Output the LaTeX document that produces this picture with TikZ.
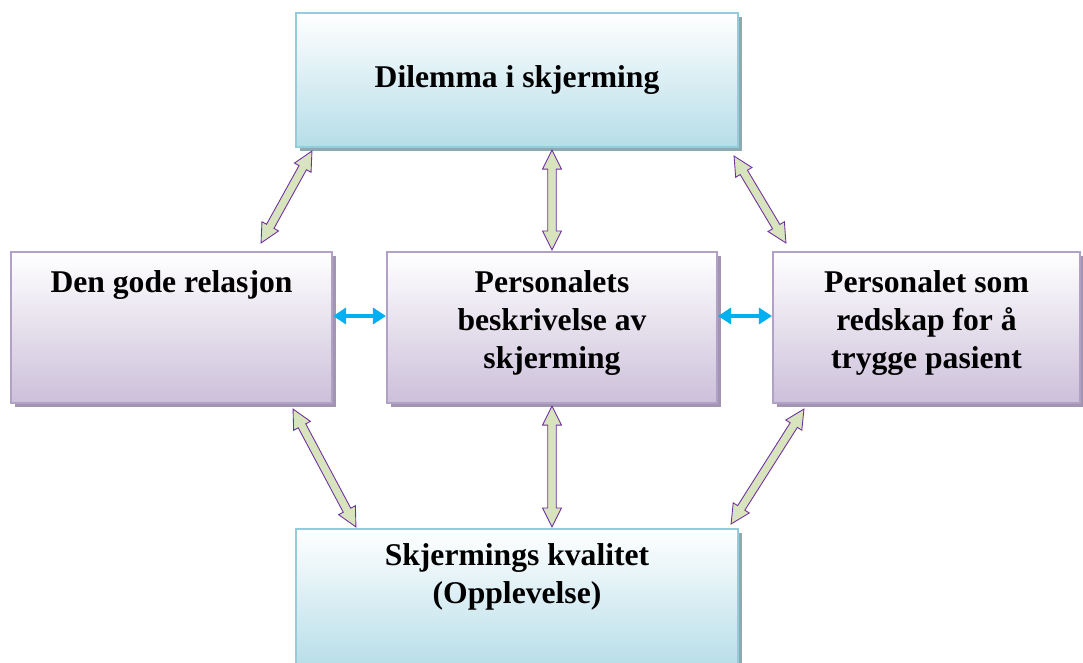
\documentclass[tikz,border=0pt]{standalone}
\usepackage{fontspec}
\setmainfont{Liberation Serif}
\usepackage{tikz}
\usetikzlibrary{shapes,arrows.meta,positioning,calc,shadows}
\usepackage{xcolor}

\definecolor{boxblue}{HTML}{B6DDE8}
\definecolor{lineblue}{HTML}{92CDDC}
\definecolor{shadeblue}{HTML}{8FA9B1}
\definecolor{boxpurple}{HTML}{CCC0DA}
\definecolor{linepurple}{HTML}{B2A1C7}
\definecolor{shadepurple}{HTML}{A195B2}
\definecolor{arrowgreen}{HTML}{D7E4BD}
\definecolor{arrowline}{HTML}{7030A0}
\definecolor{linkblue}{HTML}{00B0F0}

\newcommand{\boxfont}{\fontsize{18}{21.5}\selectfont\bfseries}

\tikzset{
  bluebox/.style={rectangle, draw=lineblue, line width=1.2pt, top color=white, bottom color=boxblue,
    drop shadow={shadow xshift=2pt, shadow yshift=-2pt, fill=shadeblue, opacity=1},
    align=center, font=\boxfont, inner sep=0pt},
  purplebox/.style={rectangle, draw=linepurple, line width=1.2pt, top color=white, bottom color=boxpurple,
    drop shadow={shadow xshift=2pt, shadow yshift=-2pt, fill=shadepurple, opacity=1},
    align=center, font=\boxfont, inner sep=0pt},
  blockarr/.style={fill=arrowgreen, draw=arrowline, line width=0.5pt, line join=miter},
  link/.style={linkblue, line width=2.3pt, {Triangle[length=0.26cm,width=0.32cm]}-{Triangle[length=0.26cm,width=0.32cm]}}
}

% double block arrow between two points
\newcommand{\blockarrow}[2]{%
  \draw[blockarr] (#1)
    -- ($(#1)!0.38cm!(#2)!0.19cm!90:(#2)$) -- ($(#1)!0.38cm!(#2)!0.085cm!90:(#2)$)
    -- ($(#2)!0.38cm!(#1)!0.085cm!-90:(#1)$) -- ($(#2)!0.38cm!(#1)!0.19cm!-90:(#1)$)
    -- (#2)
    -- ($(#2)!0.38cm!(#1)!0.19cm!90:(#1)$) -- ($(#2)!0.38cm!(#1)!0.085cm!90:(#1)$)
    -- ($(#1)!0.38cm!(#2)!0.085cm!-90:(#2)$) -- ($(#1)!0.38cm!(#2)!0.19cm!-90:(#2)$)
    -- cycle;}

\begin{document}
\begin{tikzpicture}
    \useasboundingbox (0,0) rectangle (21.66,-13.24);

    \node[bluebox, minimum width=8.84cm, minimum height=2.68cm] (dil) at (10.34,-1.6) {Dilemma i skjerming};
    \node[purplebox, minimum width=6.42cm, minimum height=3.02cm,
      label={[font=\boxfont, anchor=center, yshift=-0.68cm]north:Den gode relasjon}] (rel) at (3.43,-6.55) {};
    \node[purplebox, minimum width=6.6cm, minimum height=3.02cm,
      label={[font=\boxfont, align=center, anchor=center, yshift=-1.44cm]north:Personalets\\beskrivelse av\\skjerming}] (pers) at (11.04,-6.55) {};
    \node[purplebox, minimum width=6.14cm, minimum height=3.02cm,
      label={[font=\boxfont, align=center, anchor=center, yshift=-1.44cm]north:Personalet som\\redskap for å\\trygge pasient}] (verk) at (18.53,-6.55) {};
    \node[bluebox, minimum width=8.84cm, minimum height=2.8cm,
      label={[font=\boxfont, align=center, anchor=center, yshift=-0.98cm]north:Skjermings kvalitet\\(Opplevelse)}] (kval) at (10.34,-11.98) {};

    \coordinate (a1) at ([xshift=0.34cm,yshift=-0.06cm]dil.south west);
    \coordinate (b1) at ([xshift=-1.44cm,yshift=0.16cm]rel.north east);
    \coordinate (a2) at ([yshift=-0.04cm]dil.south -| pers.north);
    \coordinate (b2) at ([yshift=0.02cm]pers.north);
    \coordinate (a3) at ([xshift=-0.1cm,yshift=-0.16cm]dil.south east);
    \coordinate (b3) at ([xshift=0.28cm,yshift=0.16cm]verk.north west);
    \coordinate (a4) at ([xshift=-0.8cm,yshift=-0.1cm]rel.south east);
    \coordinate (b4) at ([xshift=1.22cm,yshift=0.02cm]kval.north west);
    \coordinate (a5) at ([yshift=-0.04cm]pers.south);
    \coordinate (b5) at ([yshift=0.02cm]kval.north -| pers.south);
    \coordinate (a6) at ([xshift=0.64cm,yshift=-0.1cm]verk.south west);
    \coordinate (b6) at ([xshift=-0.16cm,yshift=0.08cm]kval.north east);

    \blockarrow{a1}{b1}
    \blockarrow{a2}{b2}
    \blockarrow{a3}{b3}
    \blockarrow{a4}{b4}
    \blockarrow{a5}{b5}
    \blockarrow{a6}{b6}

    \draw[link] ([yshift=0.23cm]rel.east) -- ([yshift=0.23cm]pers.west);
    \draw[link] ([yshift=0.23cm]pers.east) -- ([yshift=0.23cm]verk.west);
\end{tikzpicture}
\end{document}
